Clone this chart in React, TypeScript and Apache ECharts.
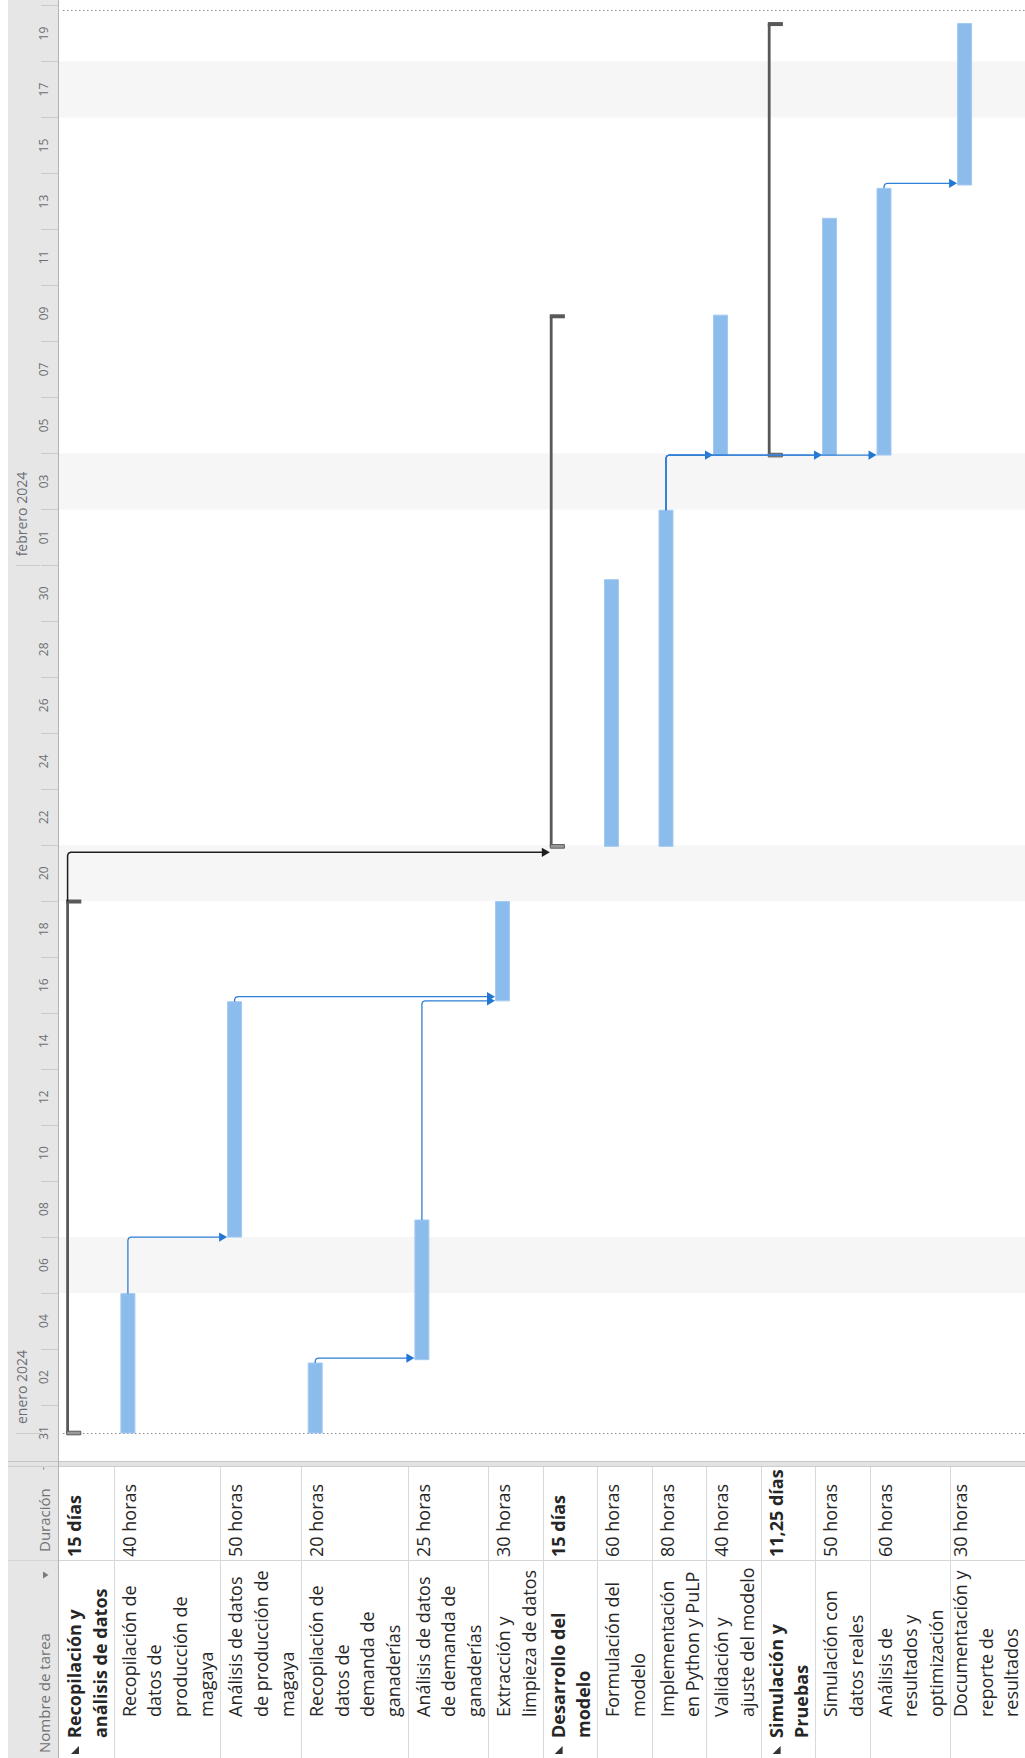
import React, { useEffect, useRef } from "react";
import * as echarts from "echarts";

// ---------------- data ----------------
const TASK_NAMES = [
  "Recopilación y\nanálisis de datos",
  "Recopilación de\ndatos de\nproducción de\nmagaya",
  "Análisis de datos\nde producción de\nmagaya",
  "Recopilación de\ndatos de\ndemanda de\nganaderías",
  "Análisis de datos\nde demanda de\nganaderías",
  "Extracción y\nlimpieza de datos",
  "Desarrollo del\nmodelo",
  "Formulación del\nmodelo",
  "Implementación\nen Python y PuLP",
  "Validación y\najuste del modelo",
  "Simulación y\nPruebas",
  "Simulación con\ndatos reales",
  "Análisis de\nresultados y\noptimización",
  "Documentación y\nreporte de\nresultados",
];
const DURATIONS = [
  "15 días", "40 horas", "50 horas", "20 horas", "25 horas", "30 horas",
  "15 días", "60 horas", "80 horas", "40 horas",
  "11,25 días", "50 horas", "60 horas", "30 horas",
];
const IS_SUMMARY = [true, false, false, false, false, false, true, false, false, false, true, false, false, false];
// days counted from 1 Jan 2024 00:00
const START_DAY = [0, 0, 7.0, 0, 2.62, 15.44, 20.96, 20.96, 20.96, 34.94, 34.94, 34.94, 34.94, 44.59];
const END_DAY = [18.99, 4.98, 15.41, 2.5, 7.61, 18.99, 39.9, 30.49, 32.97, 39.94, 50.34, 43.4, 44.47, 50.36];
// predecessor -> successor (task indices)
const LINKS = [[1, 2], [3, 4], [2, 5], [4, 5], [0, 6], [8, 9], [8, 11], [8, 12], [12, 13]];
const NONWORKING = [[5, 7], [19, 21], [33, 35], [47, 49]];
const PROJECT_LINES = [0, 50.85];
const DAY_LABEL_VALUES = [0, 2, 4, 6, 8, 10, 12, 14, 16, 18, 20, 22, 24, 26, 28, 30, 32, 34, 36, 38, 40, 42, 44, 46, 48, 50];
const DAY_LABELS = ["31", "02", "04", "06", "08", "10", "12", "14", "16", "18", "20", "22", "24", "26", "28", "30", "01", "03", "05", "07", "09", "11", "13", "15", "17", "19"];
const DAY_TICK_VALUES = [1, 3, 5, 7, 9, 11, 13, 15, 17, 19, 21, 23, 25, 27, 29, 31, 33, 35, 37, 39, 41, 43, 45, 47, 49, 51];
const MONTH_STARTS = [0, 31];
const MONTH_LABELS = ["enero 2024", "febrero 2024"];
const HEADER_DURATION = "Duración";
const HEADER_NAME = "Nombre de tarea";

// ---------------- layout ----------------
const PAGE_W = 1025;
const PAGE_H = 1758;
const PANEL_X = 8;
const CHART_L = 59;
const CHART_B = 1461;
const T_MIN = -1;
const T_MAX = 51.2;
const ROW_PAD = 2.3;
const ROW_LINE = 26.1;
const TEXT_LH = 25.6;
const BAR_OFFSET = 7.4;
const BAR_W = 14;
const SUM_OFFSET = 8.6;
const SUM_W = 2.8;
const SUM_CAP = 22.3;
const ARROW_L = 8;
const ARROW_H = 4.6;
const FONT = "'Open Sans', 'Noto Sans', sans-serif";
const TEXT_COLOR = "#262626";
const HEADER_COLOR = "#717171";
const BAR_COLOR = "#8cbcec";
const SUM_COLOR = "#595959";
const LINK_BLUE = "#2f7fd5";

const ROW_EDGES: number[] = (() => {
  let x = CHART_L;
  const e = [x];
  TASK_NAMES.forEach((n) => {
    x += ROW_PAD + ROW_LINE * n.split("\n").length;
    e.push(x);
  });
  return e;
})();

function buildGraphic() {
  const g: any[] = [];
  g.push({ type: "rect", z: -1, silent: true, shape: { x: PANEL_X, y: 0, width: CHART_L - PANEL_X - 0.5, height: PAGE_H }, style: { fill: "#e6e6e6" } });
  // separator between chart and table
  g.push({ type: "rect", z: 5, silent: true, shape: { x: PANEL_X, y: CHART_B, width: PAGE_W - PANEL_X, height: 5.5 }, style: { fill: "#e3e3e3" } });
  g.push({ type: "line", z: 5, silent: true, shape: { x1: PANEL_X, y1: CHART_B + 0.5, x2: PAGE_W, y2: CHART_B + 0.5 }, style: { stroke: "#c6c6c6", lineWidth: 1 } });
  g.push({ type: "line", z: 5, silent: true, shape: { x1: PANEL_X, y1: CHART_B + 5.5, x2: PAGE_W, y2: CHART_B + 5.5 }, style: { stroke: "#cdcdcd", lineWidth: 1 } });
  // column divider Duración / Nombre
  g.push({ type: "line", z: 5, silent: true, shape: { x1: PANEL_X, y1: 1560.5, x2: PAGE_W, y2: 1560.5 }, style: { stroke: "#d6d6d6", lineWidth: 1 } });
  // panel border
  g.push({ type: "line", z: 6, silent: true, shape: { x1: CHART_L - 0.5, y1: 0, x2: CHART_L - 0.5, y2: PAGE_H }, style: { stroke: "#b2b2b2", lineWidth: 1 } });
  // row separators in the table
  ROW_EDGES.slice(1).forEach((x) => {
    g.push({ type: "line", z: 5, silent: true, shape: { x1: Math.round(x) + 0.5, y1: CHART_B + 6, x2: Math.round(x) + 0.5, y2: PAGE_H }, style: { stroke: "#d9d9d9", lineWidth: 1 } });
  });
  // headers
  g.push({ type: "text", z: 6, silent: true, x: 43.5, y: 1552, rotation: Math.PI / 2, style: { text: HEADER_DURATION, fontSize: 15, fontFamily: FONT, fill: HEADER_COLOR, align: "left", verticalAlign: "middle" } });
  g.push({ type: "text", z: 6, silent: true, x: 43.5, y: 1753, rotation: Math.PI / 2, style: { text: HEADER_NAME, fontSize: 15, fontFamily: FONT, fill: HEADER_COLOR, align: "left", verticalAlign: "middle" } });
  g.push({ type: "polygon", z: 6, silent: true, shape: { points: [[43, 1571.5], [43, 1578.5], [48.5, 1575]] }, style: { fill: "#7a7a7a" } });
  g.push({ type: "rect", z: 6, silent: true, shape: { x: 43, y: 1467.5, width: 1.2, height: 2 }, style: { fill: "#8a8a8a" } });
  // row texts
  TASK_NAMES.forEach((name, i) => {
    const rs = ROW_EDGES[i];
    const bold = IS_SUMMARY[i];
    const nLines = name.split("\n").length;
    // keep the wrapped text inside the page
    const tx = Math.min(rs + 2.5, PAGE_W - nLines * TEXT_LH - 1);
    g.push({
      type: "text", z: 6, silent: true, x: tx, y: bold ? 1738 : 1717, rotation: Math.PI / 2,
      style: { text: name, fontSize: 18, fontFamily: FONT, fontWeight: bold ? "bold" : "normal", fill: TEXT_COLOR, align: "left", verticalAlign: "top", lineHeight: TEXT_LH },
    });
    g.push({
      type: "text", z: 6, silent: true, x: tx, y: 1557, rotation: Math.PI / 2,
      style: { text: DURATIONS[i], fontSize: 18, fontFamily: FONT, fontWeight: bold ? "bold" : "normal", fill: TEXT_COLOR, align: "left", verticalAlign: "top", lineHeight: TEXT_LH },
    });
    if (bold) {
      g.push({ type: "polygon", z: 6, silent: true, shape: { points: [[rs + 20, 1746], [rs + 20, 1754], [rs + 12, 1754]] }, style: { fill: "#333333" } });
    }
  });
  return g;
}

function buildOption() {
  const barData = TASK_NAMES.map((_, i) => [i, START_DAY[i], END_DAY[i]]).filter((d) => !IS_SUMMARY[d[0]]);
  const sumData = TASK_NAMES.map((_, i) => [i, START_DAY[i], END_DAY[i]]).filter((d) => IS_SUMMARY[d[0]]);

  return {
    animation: false,
    backgroundColor: "#ffffff",
    grid: { left: CHART_L, top: 0, width: PAGE_W - CHART_L, height: CHART_B, outerBoundsMode: "none", containLabel: false },
    xAxis: { type: "value", min: CHART_L, max: PAGE_W, show: false },
    yAxis: [
      {
        type: "value", min: T_MIN, max: T_MAX, position: "left",
        axisLine: { show: false },
        splitLine: { show: false },
        axisTick: { show: true, customValues: DAY_TICK_VALUES, length: 18, lineStyle: { color: "#cbcbcb", width: 1 } },
        axisLabel: {
          customValues: DAY_LABEL_VALUES,
          formatter: (v: number) => DAY_LABELS[DAY_LABEL_VALUES.indexOf(Math.round(v))] ?? "",
          rotate: 90, margin: 16, align: "center", verticalAlign: "middle",
          color: "#6b6f75", fontSize: 12, fontFamily: FONT,
        },
      },
      {
        type: "value", min: T_MIN, max: T_MAX, position: "left", offset: 19,
        axisLine: { show: false },
        splitLine: { show: false },
        axisTick: { show: true, customValues: MONTH_STARTS, length: 24, lineStyle: { color: "#cbcbcb", width: 1 } },
        axisLabel: {
          customValues: MONTH_STARTS,
          formatter: (v: number) => MONTH_LABELS[MONTH_STARTS.indexOf(Math.round(v))] ?? "",
          rotate: 90, margin: 19, align: "left", verticalAlign: "middle", padding: [0, 0, 0, 9],
          color: "#6b6f75", fontSize: 14, fontFamily: FONT,
        },
      },
    ],
    graphic: { elements: buildGraphic() },
    series: [
      {
        type: "custom", name: "nonworking", z: 1, silent: true, coordinateSystem: "cartesian2d", xAxisIndex: 0, yAxisIndex: 0,
        data: NONWORKING,
        renderItem: (params: any, api: any) => {
          const cs = params.coordSys;
          const a = api.coord([CHART_L, api.value(1)]);
          const b = api.coord([CHART_L, api.value(0)]);
          return { type: "rect", shape: { x: cs.x, y: a[1], width: cs.width, height: b[1] - a[1] }, style: { fill: "#f6f6f6" } };
        },
      },
      {
        type: "custom", name: "project", z: 2, silent: true, coordinateSystem: "cartesian2d", xAxisIndex: 0, yAxisIndex: 0,
        data: PROJECT_LINES.map((v) => [CHART_L, v]),
        renderItem: (params: any, api: any) => {
          const cs = params.coordSys;
          const p = api.coord([CHART_L, api.value(1)]);
          const y = Math.round(p[1]) + 0.5;
          return { type: "line", shape: { x1: cs.x + 4, y1: y, x2: cs.x + cs.width, y2: y }, style: { stroke: "#8c8c8c", lineWidth: 1, lineDash: [1.5, 2.5] } };
        },
      },
      {
        type: "custom", name: "summary", z: 3, silent: true, coordinateSystem: "cartesian2d", xAxisIndex: 0, yAxisIndex: 0,
        data: sumData,
        renderItem: (params: any, api: any) => {
          const i = api.value(0);
          const cx = ROW_EDGES[i] + SUM_OFFSET;
          const top = api.coord([cx, api.value(2)]);
          const bot = api.coord([cx, api.value(1)]);
          const capR = api.coord([ROW_EDGES[i] + SUM_CAP, api.value(2)])[0];
          const lx = top[0] - SUM_W / 2;
          return {
            type: "group",
            children: [
              { type: "rect", shape: { x: lx, y: top[1], width: SUM_W, height: bot[1] - top[1] }, style: { fill: SUM_COLOR } },
              { type: "rect", shape: { x: lx, y: top[1] - 2, width: capR - lx, height: 4 }, style: { fill: SUM_COLOR } },
              { type: "rect", shape: { x: lx + 0.5, y: bot[1] - 1.8, width: capR - lx - 1, height: 3.6 }, style: { fill: "#9a9a9a", stroke: SUM_COLOR, lineWidth: 1 } },
            ],
          };
        },
      },
      {
        type: "custom", name: "tasks", z: 3, silent: true, coordinateSystem: "cartesian2d", xAxisIndex: 0, yAxisIndex: 0,
        data: barData,
        renderItem: (params: any, api: any) => {
          const i = api.value(0);
          const x0 = ROW_EDGES[i] + BAR_OFFSET;
          const a = api.coord([x0, api.value(2)]);
          const b = api.coord([x0 + BAR_W, api.value(1)]);
          return { type: "rect", shape: { x: a[0], y: a[1], width: b[0] - a[0], height: b[1] - a[1] }, style: { fill: BAR_COLOR, stroke: "#a3caf0", lineWidth: 1 } };
        },
      },
      {
        type: "custom", name: "links", z: 4, silent: true, coordinateSystem: "cartesian2d", xAxisIndex: 0, yAxisIndex: 0,
        data: LINKS,
        renderItem: (params: any, api: any) => {
          const p = api.value(0);
          const s = api.value(1);
          const px = IS_SUMMARY[p] ? ROW_EDGES[p] + SUM_OFFSET : ROW_EDGES[p] + BAR_OFFSET + BAR_W / 2;
          const sx = IS_SUMMARY[s] ? ROW_EDGES[s] + SUM_OFFSET - SUM_W / 2 : ROW_EDGES[s] + BAR_OFFSET - 0.5;
          const a = api.coord([px, END_DAY[p]]);
          const b = api.coord([sx, START_DAY[s]]);
          let ly = Math.min(b[1], a[1] - 5);
          if (IS_SUMMARY[s]) ly = b[1] + 6;
          const color = IS_SUMMARY[p] ? "#1e1e1e" : LINK_BLUE;
          const r = 3;
          return {
            type: "group",
            children: [
              {
                type: "polyline",
                shape: { points: [[a[0], a[1]], [a[0], ly + r], [a[0] + r * 0.3, ly + r * 0.3], [a[0] + r, ly], [b[0] - ARROW_L + 1, ly]] },
                style: { stroke: color, lineWidth: IS_SUMMARY[p] ? 1.5 : 1.3, fill: null },
              },
              {
                type: "polygon",
                shape: { points: [[b[0] - ARROW_L, ly - ARROW_H], [b[0], ly], [b[0] - ARROW_L, ly + ARROW_H]] },
                style: { fill: IS_SUMMARY[p] ? "#1e1e1e" : "#2277d3" },
              },
            ],
          };
        },
      },
    ],
  };
}

export default function App() {
  const ref = useRef<HTMLDivElement>(null);
  useEffect(() => {
    if (!ref.current) return;
    const chart = echarts.init(ref.current, null, { renderer: "svg" });
    chart.setOption(buildOption() as any);
    return () => chart.dispose();
  }, []);
  return (
    <div
      ref={ref}
      style={{ position: "absolute", left: 0, top: 0, width: PAGE_W, height: PAGE_H, background: "#ffffff" }}
    />
  );
}
